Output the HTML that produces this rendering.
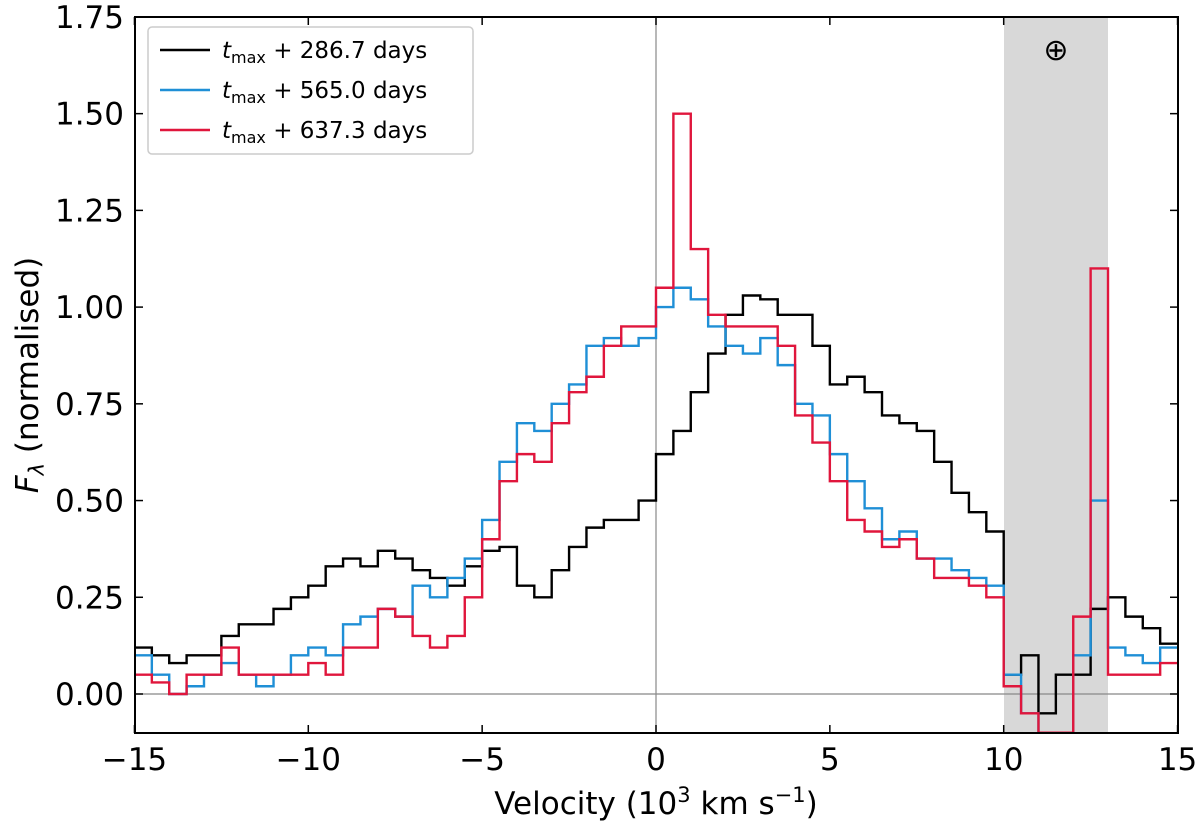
<!DOCTYPE html>
<html><head><meta charset="utf-8"><style>
body{margin:0;background:#fff}
svg{display:block;font-family:"DejaVu Sans","Liberation Sans",sans-serif}
</style></head><body>
<svg id="c" width="1200" height="825">
<defs><clipPath id="cl"><rect x="135" y="17" width="1043" height="716"/></clipPath></defs>
<rect x="1004" y="17" width="104" height="716" fill="#d8d8d8"/>
<g id="grid"></g>
<g id="series" clip-path="url(#cl)"></g>
<rect x="135" y="17" width="1043" height="716" fill="none" stroke="#000" stroke-width="2"/>
<g id="ticks"></g>
<text x="1056" y="60" font-size="30" text-anchor="middle">⊕</text>
<g>
<rect x="148" y="27" width="325" height="127" rx="4" fill="#fff" stroke="#ccc" stroke-width="1.5"/>
<line x1="160" y1="50" x2="210" y2="50" stroke="#000" stroke-width="2.5"/>
<text x="222" y="58" font-size="23"><tspan font-style="italic">t</tspan><tspan font-size="16" dy="5">max</tspan><tspan dy="-5"> + 286.7 days</tspan></text>
<line x1="160" y1="90" x2="210" y2="90" stroke="#1f8fd6" stroke-width="2.5"/>
<text x="222" y="98" font-size="23"><tspan font-style="italic">t</tspan><tspan font-size="16" dy="5">max</tspan><tspan dy="-5"> + 565.0 days</tspan></text>
<line x1="160" y1="130" x2="210" y2="130" stroke="#e0163c" stroke-width="2.5"/>
<text x="222" y="138" font-size="23"><tspan font-style="italic">t</tspan><tspan font-size="16" dy="5">max</tspan><tspan dy="-5"> + 637.3 days</tspan></text>
</g>
<text x="656" y="814" font-size="31" text-anchor="middle">Velocity (10<tspan font-size="21" dy="-12">3</tspan><tspan dy="12"> km s</tspan><tspan font-size="21" dy="-12">−1</tspan><tspan dy="12">)</tspan></text>
<text transform="translate(38,375) rotate(-90)" font-size="31" text-anchor="middle"><tspan font-style="italic">F</tspan><tspan font-size="21" font-style="italic" dy="6">λ</tspan><tspan dy="-6"> (normalised)</tspan></text>
</svg>
<script>
const xTicks=[-15,-10,-5,0,5,10,15];
const yTicks=[0,0.25,0.5,0.75,1.0,1.25,1.5,1.75];
const yLabels=["0.00","0.25","0.50","0.75","1.00","1.25","1.50","1.75"];
const binStart=-15, binWidth=0.5;
const black=[.12,.10,.08,.10,.10,.15,.18,.18,.22,.25,.28,.33,.35,.33,.37,.35,.32,.30,.28,.33,.37,.38,.28,.25,.32,.38,.43,.45,.45,.50,.62,.68,.78,.88,.98,1.03,1.02,.98,.98,.90,.80,.82,.78,.72,.70,.68,.60,.52,.47,.42,.05,.10,-.05,.05,.05,.22,.25,.20,.17,.13];
const blue=[.10,.05,0,.02,.05,.08,.05,.02,.05,.10,.12,.10,.18,.20,.22,.20,.28,.25,.30,.35,.45,.60,.70,.68,.75,.80,.90,.92,.90,.92,1.0,1.05,1.02,.95,.90,.88,.92,.85,.75,.72,.62,.55,.48,.40,.42,.35,.35,.32,.30,.28,.05,-.05,-.1,-.1,.1,.5,.12,.10,.08,.12];
const red=[.05,.03,0,.05,.05,.12,.05,.05,.05,.05,.08,.05,.12,.12,.22,.20,.15,.12,.15,.25,.40,.55,.62,.60,.70,.78,.82,.90,.95,.95,1.05,1.5,1.15,.98,.95,.95,.95,.90,.72,.65,.55,.45,.42,.38,.40,.35,.30,.30,.28,.25,.02,-.05,-.1,-.1,.2,1.1,.05,.05,.05,.08];
const X=v=>656+v*34.77, Y=v=>694-v*386.9;
const NS="http://www.w3.org/2000/svg";
function mk(t,a,p){const e=document.createElementNS(NS,t);for(const k in a)e.setAttribute(k,a[k]);p.appendChild(e);return e;}
const g=document.getElementById('grid'), tk=document.getElementById('ticks'), s=document.getElementById('series');
const vz=mk('line',{x1:X(0),x2:X(0),y1:17,y2:733,stroke:'#888','stroke-width':1.2},g);


const hz=mk('line',{x1:135,x2:1178,y1:Y(0),y2:Y(0),stroke:'#888','stroke-width':1.2},g);


xTicks.forEach(v=>{
 mk('line',{x1:X(v),x2:X(v),y1:733,y2:725,stroke:'#000','stroke-width':1.5},tk);
 mk('line',{x1:X(v),x2:X(v),y1:17,y2:25,stroke:'#000','stroke-width':1.5},tk);
 const t=mk('text',{x:X(v),y:770,'font-size':31,'text-anchor':'middle'},tk);
 t.textContent=v<0?'−'+(-v):String(v);
 
 
});
yTicks.forEach((v,i)=>{
 mk('line',{x1:135,x2:143,y1:Y(v),y2:Y(v),stroke:'#000','stroke-width':1.5},tk);
 mk('line',{x1:1178,x2:1170,y1:Y(v),y2:Y(v),stroke:'#000','stroke-width':1.5},tk);
 const t=mk('text',{x:124,y:Y(v)+11,'font-size':31,'text-anchor':'end'},tk);
 t.textContent=yLabels[i];
 
 
});
function step(arr,col,name){
 let d='';
 arr.forEach((v,i)=>{const x0=X(binStart+i*binWidth),x1=X(binStart+(i+1)*binWidth);d+=(i?'L':'M')+x0+' '+Y(v)+'L'+x1+' '+Y(v);});
 const p=mk('path',{d:d,fill:'none',stroke:col,'stroke-width':2.4},s);
 
 
}
step(black,'#000','series-286-days');
step(blue,'#1f8fd6','series-565-days');
step(red,'#e0163c','series-637-days');
</script>
</body></html>
